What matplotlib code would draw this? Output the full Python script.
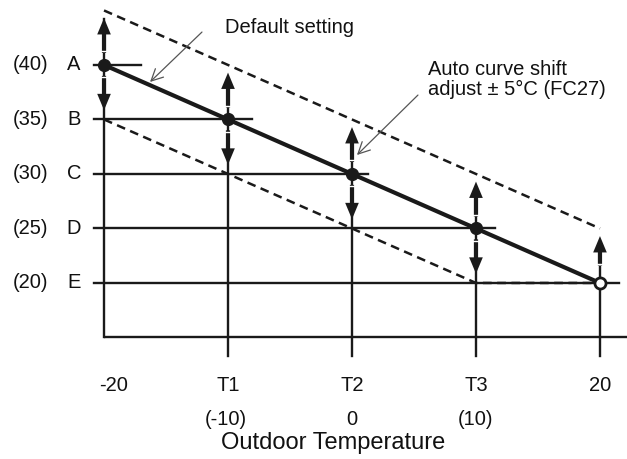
import matplotlib
matplotlib.use("Agg")
import matplotlib.pyplot as plt

plt.rcParams['font.family'] = ['Liberation Sans', 'DejaVu Sans']

# ---- data ----
outdoor_temps = [-20, -10, 0, 10, 20]
default_curve = [40, 35, 30, 25, 20]
upper_curve = [45, 40, 35, 30, 25]
lower_x = [-20, 10, 20]
lower_curve = [35, 20, 20]
level_values = [40, 35, 30, 25, 20]
level_letters = ['A', 'B', 'C', 'D', 'E']
level_nums = ['(40)', '(35)', '(30)', '(25)', '(20)']
tick_labels_top = ['-20', 'T1', 'T2', 'T3', '20']
tick_labels_bottom_x = [-10, 0, 10]
tick_labels_bottom = ['(-10)', '0', '(10)']
arrows_up = [True, True, True, True, True]
arrows_down = [True, True, True, True, False]
x_label = 'Outdoor Temperature'

fig = plt.figure(figsize=(6.27, 4.59), dpi=100)
ax = fig.add_axes([0, 0, 1, 1])
ax.set_xlim(-28.39, 22.18)
ax.set_ylim(3.85, 45.96)
ax.axis('off')

LC = '#1a1a1a'
ybase = 15
ytick_bottom = 13.26
xmin = outdoor_temps[0]

# axes lines
ax.plot([xmin, 22.18], [ybase, ybase], color=LC, lw=1.7, solid_capstyle='butt', zorder=2)
ax.plot([xmin, xmin], [ybase, default_curve[0] + 4.2], color=LC, lw=1.7, zorder=2)

# horizontal level lines
h_ext = [3.0, 1.9, 1.3, 1.5, 1.5]
for x, v, e in zip(outdoor_temps, level_values, h_ext):
    ax.plot([xmin - 0.8, x + e], [v, v], color=LC, lw=1.7, zorder=2)

# vertical tick lines
for x, v in zip(outdoor_temps[1:], default_curve[1:]):
    ax.plot([x, x], [ytick_bottom, v + 1.5], color=LC, lw=1.7, zorder=2)

# dashed curves
ax.plot(outdoor_temps, upper_curve, color=LC, lw=1.8, ls=(0, (3.5, 2.2)), zorder=3)
ax.plot(lower_x, lower_curve, color=LC, lw=1.8, ls=(0, (3.5, 2.2)), zorder=3)

# default curve
ax.plot(outdoor_temps, default_curve, color=LC, lw=3.0, zorder=4, solid_capstyle='butt')
ax.plot(outdoor_temps[:-1], default_curve[:-1], 'o', color=LC, ms=8.5, zorder=6)
ax.plot(outdoor_temps[-1:], default_curve[-1:], 'o', mfc='white', mec=LC, mew=2.0, ms=8, zorder=6)

# shift arrows (crisp polygons)
aw = dict(width=0.34, head_width=1.1, head_length=1.5, length_includes_head=True,
          color=LC, lw=0, zorder=5)
for x, v, up, dn in zip(outdoor_temps, default_curve, arrows_up, arrows_down):
    if up:
        s = 1.1 if dn else 1.6
        ax.arrow(x, v + s, 0, 4.3 - s, **aw)
        ax.plot([x - 0.25, x + 0.25], [v + s + 0.15, v + s + 0.15], color='white', lw=1.0, zorder=5.5)
    if dn:
        ax.arrow(x, v - 1.0, 0, -(4.15 - 1.0), **aw)
        ax.plot([x - 0.25, x + 0.25], [v - 1.15, v - 1.15], color='white', lw=1.0, zorder=5.5)

# level labels
for v, n, l in zip(level_values, level_nums, level_letters):
    ax.text(-25.89, v, n, ha='center', va='center', fontsize=14.5, color='#111')
    ax.text(-22.42, v, l, ha='center', va='center', fontsize=14.5, color='#111')

# tick labels
for i, (x, lab) in enumerate(zip(outdoor_temps, tick_labels_top)):
    xo = x + (0.8 if i == 0 else 0)
    ax.text(xo, 10.55, lab, ha='center', va='center', fontsize=14.5, color='#111')
for x, lab in zip(tick_labels_bottom_x, tick_labels_bottom):
    ax.text(x - 0.15 if x < 0 else x, 7.43, lab, ha='center', va='center', fontsize=14.5, color='#111')
ax.text(-1.53, 5.3, x_label, ha='center', va='center', fontsize=17, color='#111')

# annotations
ann = dict(arrowstyle='->,head_length=0.6,head_width=0.3', lw=0.9, color='#555555',
           mutation_scale=14, shrinkA=0, shrinkB=0)
ax.annotate('', xy=(-16.29, 38.44), xytext=(-12.10, 43.02), arrowprops=ann, zorder=7)
ax.text(-10.24, 42.93, 'Default setting', ha='left', va='baseline', fontsize=14.5, color='#111')

ax.annotate('', xy=(0.40, 31.74), xytext=(5.32, 37.24), arrowprops=ann, zorder=7)
ax.text(6.13, 39.08, 'Auto curve shift', ha='left', va='baseline', fontsize=14.5, color='#111')
ax.text(6.13, 37.24, 'adjust \u00b1 5\u00b0C (FC27)', ha='left', va='baseline', fontsize=14.5, color='#111')

fig.savefig('out.png', dpi=100)
